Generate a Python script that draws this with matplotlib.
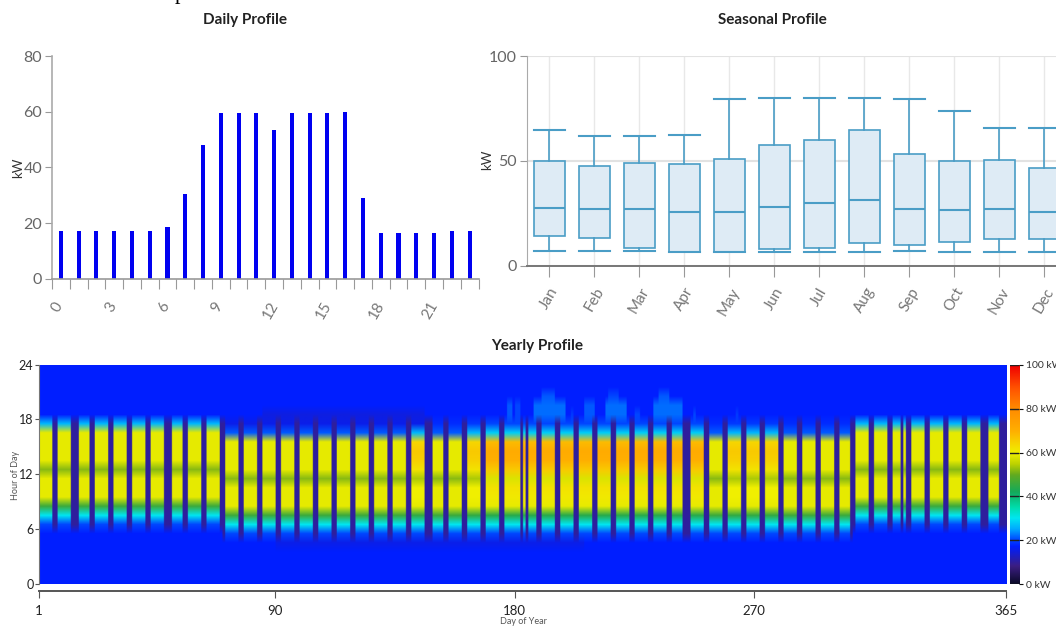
import numpy as np
import matplotlib
matplotlib.use("Agg")
import matplotlib.pyplot as plt
from matplotlib.colors import LinearSegmentedColormap

W, H = 1056, 627
plt.rcParams['font.family'] = ['Lato', 'DejaVu Sans']

GRAY = "#666666"

# daily profile
hours = list(range(24))
daily_kw = [17, 17, 17, 17, 17, 17, 18.5, 30.5, 48, 59.5, 59.5, 59.5,
            53.5, 59.5, 59.5, 59.5, 60, 29, 16.5, 16.5, 16.5, 16.5, 17, 17]
hour_labels = [0, 3, 6, 9, 12, 15, 18, 21]

# seasonal profile
months = ["Jan", "Feb", "Mar", "Apr", "May", "Jun", "Jul", "Aug", "Sep", "Oct", "Nov", "Dec"]
whisker_low = [7, 7, 7, 6.4, 6.4, 6.4, 6.4, 6.4, 7, 6.4, 6.4, 6.4]
q1 = [14.2, 13.4, 8.6, 6.7, 6.7, 8, 8.6, 10.8, 9.7, 11.4, 12.9, 12.9]
median = [27.7, 26.9, 26.9, 25.6, 25.6, 27.8, 29.9, 31.3, 26.9, 26.4, 27, 25.6]
q3 = [49.8, 47.7, 49.1, 48.3, 51, 57.4, 60, 64.5, 53.3, 49.8, 50.2, 46.7]
whisker_high = [64.7, 61.8, 61.8, 62.5, 79.5, 80, 80, 80, 79.5, 73.8, 65.8, 65.8]

# yearly profile: kW per hour of day on a working day
profile_winter = [17, 17, 17, 17, 17, 17, 20, 30, 46, 59, 59, 59, 52, 59, 59, 59, 59, 26, 17, 17, 17, 17, 17, 17]
profile_spring = [17, 17, 17, 17, 17, 20, 30, 46, 59, 59, 59, 52, 59, 59, 59, 59, 21, 18, 17, 17, 17, 17, 17, 17]
profile_warm = [17, 17, 17, 17, 17, 20, 30, 45, 59, 60, 60, 54, 62, 65, 66, 64, 26, 19, 17, 17, 17, 17, 17, 17]
profile_summer = [17, 17, 17, 17, 17, 20, 30, 44, 59, 61, 62, 58, 66, 70, 71, 68, 28, 20, 17, 17, 17, 17, 17, 17]

# first day, last day, profile
season_spans = [
    (1, 69, profile_winter), (70, 139, profile_spring), (140, 145, profile_warm),
    (146, 159, profile_spring), (160, 166, profile_warm), (167, 250, profile_summer),
    (251, 257, profile_spring), (258, 278, profile_warm), (279, 306, profile_spring),
    (307, 365, profile_winter),
]

# weekends and holidays, the plant is off
off_days = [6, 7, 13, 14, 15, 20, 21, 27, 28, 34, 35, 41, 42, 48, 49, 50, 55, 56, 62, 63, 69, 70,
            76, 77, 83, 84, 90, 91, 97, 98, 104, 105, 111, 112, 118, 119, 125, 126, 132, 133,
            139, 140, 146, 147, 148, 153, 154, 160, 161, 167, 168, 174, 175, 182, 184, 188, 189,
            195, 196, 202, 203, 209, 210, 216, 217, 223, 224, 230, 231, 237, 238, 243, 244, 245,
            251, 252, 258, 259, 265, 266, 272, 273, 279, 280, 286, 287, 293, 294, 300, 301,
            306, 307, 313, 314, 320, 321, 325, 327, 328, 334, 335, 341, 342, 348, 349,
            355, 356, 357, 362, 363, 364, 365]
off_kw = 10

# first day, last day, first hour, last hour, kW
evening_plumes = [
    (177, 178, 18, 19, 21), (180, 181, 18, 19, 20), (187, 198, 18, 19, 22), (190, 194, 20, 20, 21),
    (201, 201, 18, 18, 19), (206, 209, 18, 19, 21), (214, 221, 18, 19, 22), (215, 218, 20, 20, 20),
    (225, 226, 18, 18, 20), (232, 242, 18, 19, 22), (234, 237, 20, 20, 21), (247, 247, 18, 18, 20),
    (263, 263, 18, 18, 19),
]
# purple band around the edges of the day: first day, last day, hour, kW
dim_bands = [(70, 145, 17, 15.5), (85, 145, 18, 15), (90, 205, 4, 15.5)]

stops = [(0, (10, 10, 40)), (8, (60, 30, 130)), (17, (0, 30, 255)), (20, (0, 70, 255)),
         (25, (0, 170, 255)), (30, (0, 230, 240)), (35, (0, 220, 170)), (42, (20, 170, 90)),
         (50, (100, 170, 30)), (55, (190, 210, 0)), (60, (240, 240, 0)), (70, (255, 175, 0)),
         (80, (255, 140, 0)), (90, (255, 80, 0)), (100, (240, 0, 0))]


def px_axes(fig, left, top, right, bottom):
    return fig.add_axes([left / W, 1 - bottom / H, (right - left) / W, (bottom - top) / H])


def build_matrix():
    grid = np.zeros((24, 365))
    for first, last, profile in season_spans:
        grid[:, first - 1:last] = np.array(profile)[:, None]
    for day in off_days:
        grid[grid[:, day - 1] > 17.5, day - 1] = off_kw
    for first, last, hour, kw in dim_bands:
        column = grid[hour, first - 1:last]
        column[column >= 17] = kw
    for first, last, h0, h1, kw in evening_plumes:
        grid[h0:h1 + 1, first - 1:last] = kw
    # sharper edges between days than plain bilinear gives
    return np.repeat(grid, 2, axis=1)


fig = plt.figure(figsize=(W / 100, H / 100), dpi=100)

# Daily
ax = px_axes(fig, 52, 56, 478.5, 278.7)
ax.bar(np.array(hours) + 0.5, daily_kw, width=0.23, color="#0000f0")
ax.set_xlim(0, 24)
ax.set_ylim(0, 80)
ax.set_xticks(range(25))
ax.set_xticklabels([])
ax.set_xticks([h + 0.3 for h in hour_labels], [str(h) for h in hour_labels], minor=True,
              rotation=60, fontsize=11, color="#777777")
ax.tick_params(axis="x", which="major", length=7, color="#999999")
ax.tick_params(axis="x", which="minor", length=0, pad=15)
ax.set_yticks([0, 20, 40, 60, 80])
ax.tick_params(axis="y", labelsize=11.5, labelcolor=GRAY, length=5, color="#999999", pad=2)
for side in ["top", "right"]:
    ax.spines[side].set_visible(False)
ax.spines["left"].set_color("#aaaaaa")
ax.spines["bottom"].set_color("#999999")
ax.spines["left"].set_linewidth(1.2)
ax.spines["bottom"].set_linewidth(1.2)
fig.text(18 / W, 1 - 168 / H, "kW", rotation=90, ha="center", va="center", fontsize=9.5, color="#333333")
fig.text(245 / W, 1 - 20 / H, "Daily Profile", ha="center", va="center", fontsize=11,
         fontweight="bold", color="#222222")

# Seasonal
ax = px_axes(fig, 526.7, 56, 1066.7, 265.7)
stats = [{"med": m, "q1": a, "q3": b, "whislo": lo, "whishi": hi, "fliers": []}
         for m, a, b, lo, hi in zip(median, q1, q3, whisker_low, whisker_high)]
edge = "#4a9dc6"
ax.bxp(stats, positions=range(12), widths=0.68, capwidths=0.68, patch_artist=True, showfliers=False,
       boxprops=dict(facecolor="#deebf5", edgecolor=edge, linewidth=1.2),
       medianprops=dict(color=edge, linewidth=1.5),
       whiskerprops=dict(color=edge, linewidth=1.2),
       capprops=dict(color=edge, linewidth=1.5), zorder=3)
ax.set_xlim(-0.5, 11.5)
ax.set_ylim(0, 100)
ax.set_xticks(range(12), months, rotation=60, fontsize=11, color="#777777")
ax.set_yticks([0, 50, 100])
ax.tick_params(axis="x", length=8, color="#999999", pad=6)
ax.tick_params(axis="y", labelsize=11.5, labelcolor=GRAY, length=5, color="#999999", pad=2)
ax.grid(axis="x", color="#e8e8e8", linewidth=1)
ax.grid(axis="y", color="#e2e2e2", linewidth=1.5)
ax.set_axisbelow(True)
for side in ["top", "right"]:
    ax.spines[side].set_visible(False)
ax.spines["left"].set_color("#aaaaaa")
ax.spines["bottom"].set_color("#777777")
ax.spines["bottom"].set_linewidth(1.4)
fig.text(487 / W, 1 - 160 / H, "kW", rotation=90, ha="center", va="center", fontsize=9.5, color="#333333")
fig.text(772 / W, 1 - 20 / H, "Seasonal Profile", ha="center", va="center", fontsize=11,
         fontweight="bold", color="#222222")

# Yearly
cmap = LinearSegmentedColormap.from_list(
    "yearly", [(v / 100, tuple(c / 255 for c in rgb)) for v, rgb in stops], N=512)
ax = px_axes(fig, 39, 364.5, 1006, 584)
im = ax.imshow(build_matrix(), origin="lower", aspect="auto", extent=(1, 366, 0, 24),
               cmap=cmap, vmin=0, vmax=100, interpolation="bilinear")
ax.set_xlim(1, 365)
ax.set_ylim(0, 24)
ax.set_yticks([0, 6, 12, 18, 24])
ax.tick_params(axis="y", labelsize=9, labelcolor="#222222", length=3, color="#555555", pad=1)
ax.spines[:].set_visible(False)
ax.spines["left"].set_visible(True)
ax.spines["left"].set_color("#777777")
ax.set_xticks([])
fig.text(15 / W, 1 - 475 / H, "Hour of Day", rotation=90, ha="center", va="center", fontsize=6.5, color="#555555")
fig.text(537 / W, 1 - 346 / H, "Yearly Profile", ha="center", va="center", fontsize=11,
         fontweight="bold", color="#222222")

# the day axis sits apart from the heatmap
day_ax = px_axes(fig, 39, 590, 1006, 591)
day_ax.set_xlim(1, 365)
day_ax.set_yticks([])
day_ax.set_xticks([1, 90, 180, 270, 365], ["1", "90", "180", "270", "365"])
day_ax.tick_params(axis="x", labelsize=9.5, labelcolor="#222222", length=5, color="#555555", pad=5)
for side in ["top", "left", "right"]:
    day_ax.spines[side].set_visible(False)
day_ax.spines["bottom"].set_color("#555555")
day_ax.spines["bottom"].set_linewidth(1.4)
fig.text(523 / W, 1 - 622 / H, "Day of Year", ha="center", va="center", fontsize=6.5, color="#555555")

# colorbar
cax = px_axes(fig, 1009.5, 365, 1019, 584)
cax.imshow(np.linspace(0, 100, 256)[:, None], origin="lower", aspect="auto", extent=(0, 1, 0, 100),
           cmap=cmap, vmin=0, vmax=100)
cax.set_xticks([])
cax.yaxis.tick_right()
cax.set_yticks(range(0, 101, 20), [f"{v} kW" for v in range(0, 101, 20)])
cax.tick_params(axis="y", labelsize=7.5, labelcolor="#333333", length=3, color="#111111", pad=2)
for v in range(0, 101, 20):
    cax.axhline(v, color="#222222", linewidth=1)
cax.spines[:].set_visible(False)

# tail of a cropped heading above the charts
fig.text(180 / W, 1 + 1 / H, "p", ha="center", va="baseline", fontsize=16, color="black",
         family="Liberation Serif")

fig.savefig("out.png", dpi=100)
